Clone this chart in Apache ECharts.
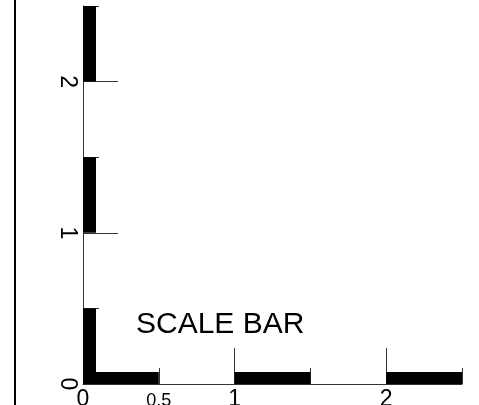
<!DOCTYPE html>
<html>
<head>
<meta charset="utf-8">
<style>
  html, body { margin: 0; padding: 0; background: #fff; }
  #chart { width: 479px; height: 405px; }
</style>
<script src="https://cdn.jsdelivr.net/npm/echarts@6/dist/echarts.min.js"></script>
</head>
<body>
<div id="chart"></div>
<script>
// ---- data ----
const axisMin = 0;
const axisMax = 2.5;
const xMajorTicks = [1, 2];
const xMinorTicks = [0.5, 1.5, 2.5];
const xLabelValues = [0, 1, 2];
const xSmallLabelValues = [0.5];
const yMajorTicks = [1, 2];
const yMinorTicks = [0.5, 1.5, 2.5];
const yLabelValues = [0, 1, 2];
const hSegments = [[0, 0.5], [1, 1.5], [2, 2.5]];
const vSegments = [[0, 0.5], [1, 1.5], [2, 2.5]];
const titleText = 'SCALE BAR';

const FONT = "'Liberation Sans', Arial, sans-serif";
const chart = echarts.init(document.getElementById('chart'), null, { renderer: 'canvas' });

const lineStyle = { color: '#333', width: 1 };

chart.setOption({
  animation: false,
  backgroundColor: '#fff',
  title: {
    text: titleText,
    left: 131,
    top: 305,
    textStyle: { fontSize: 30, fontWeight: 'normal', color: '#000', fontFamily: FONT }
  },
  graphic: [{
    type: 'line',
    shape: { x1: 15, y1: 0, x2: 15, y2: 405 },
    style: { stroke: '#000', lineWidth: 2 }
  }],
  grid: { left: 83, right: 17, top: 6, bottom: 21, containLabel: false, outerBoundsMode: 'none' },
  xAxis: [{
    type: 'value', min: axisMin, max: axisMax, position: 'bottom',
    splitLine: { show: false },
    axisLine: { show: true, lineStyle: lineStyle },
    axisTick: { show: true, inside: true, length: 36, customValues: xMajorTicks, lineStyle: lineStyle },
    axisLabel: { show: true, customValues: xLabelValues, margin: 4, fontSize: 23, color: '#000', fontFamily: FONT }
  }, {
    type: 'value', min: axisMin, max: axisMax, position: 'bottom',
    splitLine: { show: false },
    axisLine: { show: false },
    axisTick: { show: true, inside: true, length: 16, customValues: xMinorTicks, lineStyle: lineStyle },
    axisLabel: { show: true, customValues: xSmallLabelValues, margin: 8, fontSize: 18, color: '#000', fontFamily: FONT }
  }],
  yAxis: [{
    type: 'value', min: axisMin, max: axisMax, position: 'left',
    splitLine: { show: false },
    axisLine: { show: true, lineStyle: lineStyle },
    axisTick: { show: true, inside: true, length: 35, customValues: yMajorTicks, lineStyle: lineStyle },
    axisLabel: { show: true, customValues: yLabelValues, rotate: -90, margin: 4, fontSize: 23, color: '#000', fontFamily: FONT }
  }, {
    type: 'value', min: axisMin, max: axisMax, position: 'left',
    splitLine: { show: false },
    axisLine: { show: false },
    axisTick: { show: true, inside: true, length: 16, customValues: yMinorTicks, lineStyle: lineStyle },
    axisLabel: { show: false }
  }],
  series: [{
    type: 'custom',
    xAxisIndex: 0, yAxisIndex: 0,
    data: hSegments,
    encode: { x: [0, 1] },
    renderItem: function (params, api) {
      const s = api.coord([api.value(0), 0]);
      const e = api.coord([api.value(1), 0]);
      return { type: 'rect', shape: { x: s[0], y: s[1] - 12, width: e[0] - s[0], height: 12 }, style: { fill: '#000' } };
    },
    z: 1
  }, {
    type: 'custom',
    xAxisIndex: 0, yAxisIndex: 0,
    data: vSegments,
    encode: { y: [0, 1] },
    renderItem: function (params, api) {
      const s = api.coord([0, api.value(0)]);
      const e = api.coord([0, api.value(1)]);
      return { type: 'rect', shape: { x: s[0], y: e[1], width: 13, height: s[1] - e[1] }, style: { fill: '#000' } };
    },
    z: 1
  }]
});
</script>
</body>
</html>
